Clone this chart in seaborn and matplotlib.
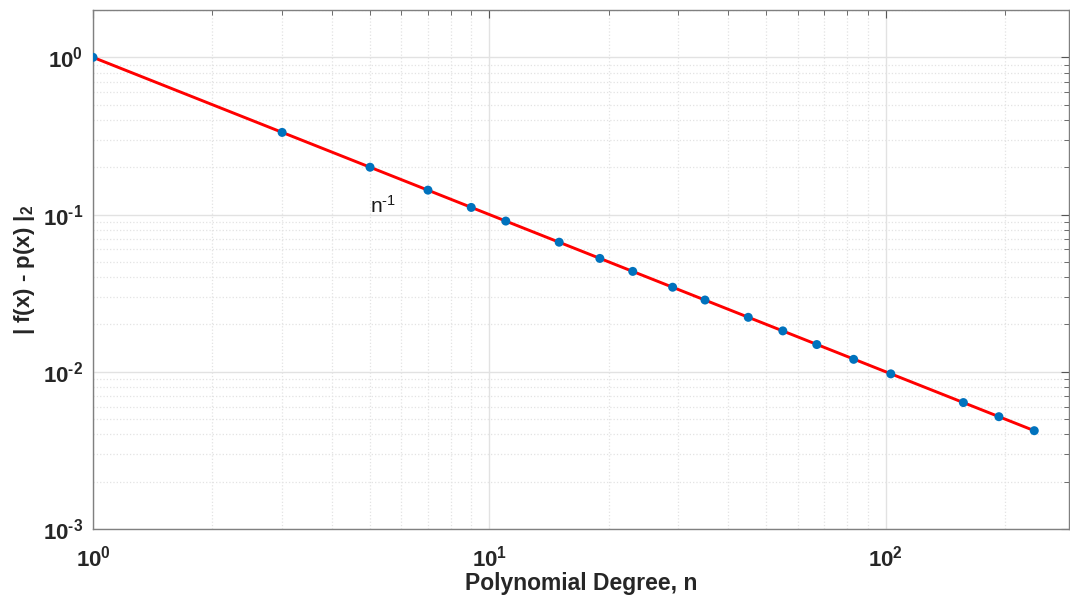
import numpy as np
import pandas as pd
import matplotlib
matplotlib.use("Agg")
import matplotlib.pyplot as plt
import matplotlib.ticker as mticker
import seaborn as sns

# ---- data ----
degree_n = [1, 3, 5, 7, 9, 11, 15, 19, 23, 29, 35, 45, 55, 67, 83, 103, 157, 193, 237]
error_l2 = [1.0, 0.333, 0.2, 0.143, 0.111, 0.0909, 0.0667, 0.0526, 0.0435, 0.0345,
            0.0286, 0.0222, 0.0182, 0.0149, 0.0120, 0.0097, 0.00637, 0.00518, 0.00422]
ref_n = [1, 237]
ref_err = [1.0, 0.00422]
ref_label = "n$^{\u2010\\mathrm{1}}$"
x_label = "Polynomial Degree, n"
y_label = "| f(x) - p(x) |$_{\\mathbf{2}}$"

sns.set_style("white")
plt.rcParams["font.family"] = ["Liberation Sans", "DejaVu Sans"]
plt.rcParams["mathtext.fontset"] = "custom"
plt.rcParams["mathtext.rm"] = "Liberation Sans"
plt.rcParams["mathtext.bf"] = "Liberation Sans:bold"
plt.rcParams["mathtext.it"] = "Liberation Sans:italic"

fig = plt.figure(figsize=(10.70, 6.01), dpi=100)
ax = fig.add_axes([93/1070, 1 - 529/601, (1069-93)/1070, (529-10)/601])

df_pts = pd.DataFrame({"n": degree_n, "err": error_l2})
df_ref = pd.DataFrame({"n": ref_n, "err": ref_err})

sns.lineplot(data=df_ref, x="n", y="err", ax=ax, color="#FF0000", linewidth=2.1, zorder=3)
sns.scatterplot(data=df_pts, x="n", y="err", ax=ax, color="#0072BD", s=42,
                edgecolor="none", zorder=4)

ax.set_xscale("log")
ax.set_yscale("log")
ax.set_xlim(1, 290)
ax.set_ylim(1e-3, 2)

def fmt(v, p):
    e = int(round(np.log10(v)))
    s = str(e).replace("-", "\u2010")
    return r"$\mathbf{10^{%s}}$" % s

ax.xaxis.set_major_locator(mticker.LogLocator(base=10, numticks=10))
ax.yaxis.set_major_locator(mticker.LogLocator(base=10, numticks=10))
ax.xaxis.set_major_formatter(mticker.FuncFormatter(fmt))
ax.yaxis.set_major_formatter(mticker.FuncFormatter(fmt))
ax.xaxis.set_minor_locator(mticker.LogLocator(base=10, subs=np.arange(2, 10), numticks=20))
ax.yaxis.set_minor_locator(mticker.LogLocator(base=10, subs=np.arange(2, 10), numticks=20))
ax.xaxis.set_minor_formatter(mticker.NullFormatter())
ax.yaxis.set_minor_formatter(mticker.NullFormatter())

ax.grid(True, which="major", color="#e2e2e2", linestyle="-", linewidth=1.0, zorder=0)
ax.grid(True, which="minor", color="#e3e3e3", linestyle=":", linewidth=0.9, zorder=0)
ax.set_axisbelow(True)

for sp in ax.spines.values():
    sp.set_color("#808080")
    sp.set_linewidth(1.0)
    sp.set_visible(True)

ax.tick_params(which="both", direction="in", top=True, right=True, colors="#555555",
               labelcolor="#262626")
ax.tick_params(which="major", length=6, width=0.8, labelsize=16)
ax.tick_params(axis="y", which="major", pad=7)
ax.tick_params(axis="x", which="major", pad=12)
ax.tick_params(which="minor", length=3.5, width=0.6)

ax.set_xlabel(x_label, fontsize=16.5, fontweight="bold", color="#262626", labelpad=0)
ax.set_ylabel(y_label, fontsize=16, fontweight="bold", color="#262626", labelpad=4)

ax.text(5.4, 0.114, ref_label, fontsize=15, color="#1a1a1a", ha="center", va="center")

fig.savefig("out.png", dpi=100)
